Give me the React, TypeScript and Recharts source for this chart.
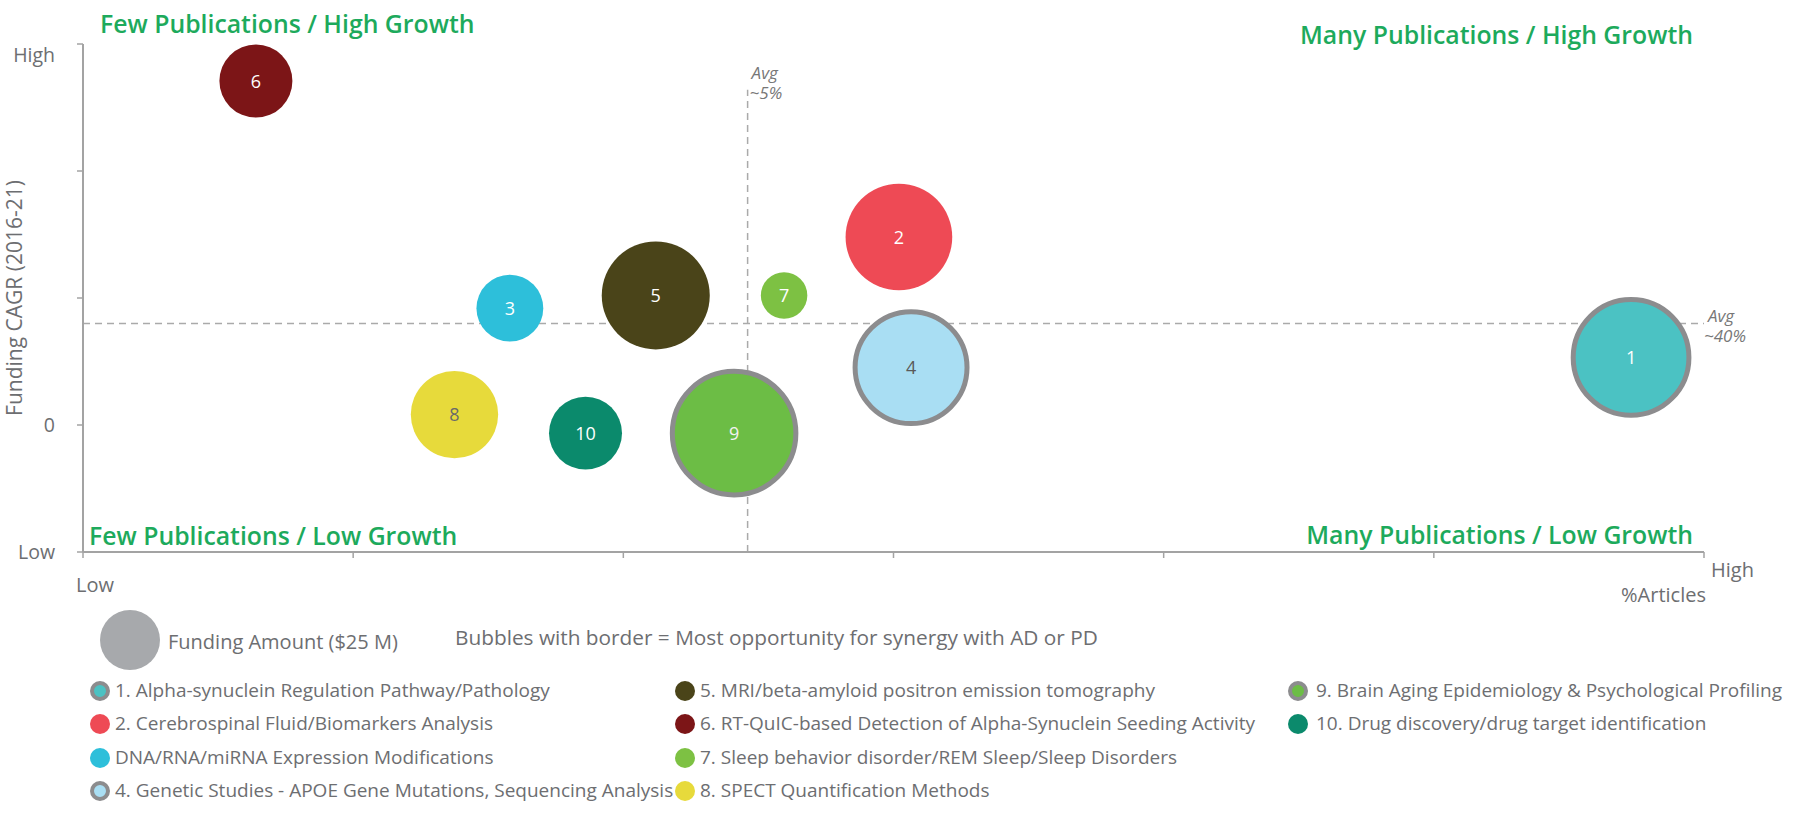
import React from 'react';
import { ScatterChart, Scatter, XAxis, YAxis, ZAxis, ReferenceLine } from 'recharts';

const ids = [1, 2, 3, 4, 5, 6, 7, 8, 9, 10];
const names = [
  '1. Alpha-synuclein Regulation Pathway/Pathology',
  '2. Cerebrospinal Fluid/Biomarkers Analysis',
  'DNA/RNA/miRNA Expression Modifications',
  '4. Genetic Studies - APOE Gene Mutations, Sequencing Analysis',
  '5. MRI/beta-amyloid positron emission tomography',
  '6. RT-QuIC-based Detection of Alpha-Synuclein Seeding Activity',
  '7. Sleep behavior disorder/REM Sleep/Sleep Disorders',
  '8. SPECT Quantification Methods',
  '9. Brain Aging Epidemiology & Psychological Profiling',
  '10. Drug discovery/drug target identification',
];
const articles = [11.46, 6.04, 3.16, 6.13, 4.24, 1.28, 5.19, 2.75, 4.82, 3.72];
const cagr = [26.6, 74.0, 46.0, 22.6, 51.0, 135.4, 51.0, 4.1, -3.2, -3.2];
const funding = [93, 79, 31, 87, 81, 37, 15, 53, 106, 37];
const colors = ['#4BC2C3', '#EE4A55', '#2DBFDA', '#A9DEF3', '#4A4419', '#7C1517', '#7DC143', '#E7DA3B', '#6CBD45', '#0B8A6C'];
const bordered = [true, false, false, true, false, false, false, false, true, false];
const labelColors = ['#FFFFFF', '#FFFFFF', '#FFFFFF', '#5A5A5A', '#FFFFFF', '#FFFFFF', '#FFFFFF', '#6A6A6A', '#F2F2F2', '#FFFFFF'];
const legendCols = [[0, 1, 2, 3], [4, 5, 6, 7], [8, 9]];

const xTicks = [0, 2, 4, 6, 8, 10, 12];
const yTicks = [-50, 0, 50, 100, 150];
const yTickLabels: Record<string, string> = { '-50': 'Low', '0': '0', '150': 'High' };
const avgArticles = 4.92;
const avgCagr = 40;
const avgLineTop = 132;

const quadrantLabels = [
  'Few Publications / High Growth',
  'Many Publications / High Growth',
  'Few Publications / Low Growth',
  'Many Publications / Low Growth',
];

const data = ids.map((id, i) => ({
  id,
  name: names[i],
  x: articles[i],
  y: cagr[i],
  z: funding[i],
  color: colors[i],
  bordered: bordered[i],
  labelColor: labelColors[i],
}));

const FONT = '"Open Sans", "DejaVu Sans", sans-serif';
const GRAY_TEXT = '#6D6E71';
const GREEN = '#1DAA5C';
const AXIS = '#A3A3A3';

const Bubble = (props: any) => {
  const { cx, cy, payload } = props;
  const r = props.width ? props.width / 2 : Math.sqrt((props.size || 64) / Math.PI);
  return (
    <g>
      <circle
        cx={cx}
        cy={cy}
        r={r}
        fill={payload.color}
        stroke={payload.bordered ? '#8C8C8E' : 'none'}
        strokeWidth={payload.bordered ? 5 : 0}
      />
      <text x={cx} y={cy} dy={6.5} textAnchor="middle" fill={payload.labelColor} fontSize={18} fontFamily={FONT}>
        {payload.id}
      </text>
    </g>
  );
};

const XTick = (props: any) => {
  const { x, y, payload } = props;
  if (payload.value === xTicks[0]) {
    return (
      <text x={x - 7} y={y + 32} fill={GRAY_TEXT} fontSize={20} fontFamily={FONT}>
        Low
      </text>
    );
  }
  if (payload.value === xTicks[xTicks.length - 1]) {
    return (
      <g>
        <text x={x + 7} y={y + 17} fill={GRAY_TEXT} fontSize={20} fontFamily={FONT}>
          High
        </text>
        <text x={x + 2} y={y + 42} fill={GRAY_TEXT} fontSize={20} fontFamily={FONT} textAnchor="end">
          %Articles
        </text>
      </g>
    );
  }
  return <g />;
};

const YTick = (props: any) => {
  const { x, y, payload } = props;
  const label = yTickLabels[String(payload.value)];
  if (!label) return <g />;
  const extra = payload.value === yTicks[yTicks.length - 1] ? 11 : 0;
  return (
    <text x={x - 20} y={y + 7 + extra} fill={GRAY_TEXT} fontSize={19.5} fontFamily={FONT} textAnchor="end">
      {label}
    </text>
  );
};

const VAvgLabel = (props: any) => {
  const vb = props.viewBox || {};
  const x = vb.x ?? 0;
  const y = vb.y ?? 0;
  return (
    <g>
      <text x={x + 4} y={y - 11} fill="#777" fontSize={17} fontStyle="italic" fontFamily={FONT}>Avg</text>
      <text x={x + 2} y={y + 9} fill="#777" fontSize={17} fontStyle="italic" fontFamily={FONT}>~5%</text>
    </g>
  );
};

const HAvgLabel = (props: any) => {
  const vb = props.viewBox || {};
  const x = (vb.x ?? 0) + (vb.width ?? 0);
  const y = vb.y ?? 0;
  return (
    <g>
      <text x={x + 4} y={y - 1} fill="#777" fontSize={17} fontStyle="italic" fontFamily={FONT}>Avg</text>
      <text x={x} y={y + 19} fill="#777" fontSize={17} fontStyle="italic" fontFamily={FONT}>~40%</text>
    </g>
  );
};

const quadStyle: React.CSSProperties = {
  position: 'absolute',
  color: GREEN,
  fontSize: 24.8,
  fontWeight: 600,
  lineHeight: '28px',
  whiteSpace: 'nowrap',
};

const LegendMarker = ({ i }: { i: number }) => (
  <div
    style={{
      width: 20,
      height: 20,
      borderRadius: '50%',
      background: colors[i],
      boxSizing: 'border-box',
      border: bordered[i] ? '4px solid #8C8C8E' : 'none',
    }}
  />
);

const legendColX = [[100, 115], [685, 700], [1298, 1316]];
const legendRowY = [691, 724, 758, 791];

export default function App() {
  return (
    <div
      style={{
        position: 'absolute',
        left: 0,
        top: 0,
        width: 1800,
        height: 816,
        background: '#fff',
        fontFamily: FONT,
        overflow: 'hidden',
      }}
    >
      <ScatterChart width={1800} height={620} margin={{ top: 44, right: 96, bottom: 8, left: 13 }}>
        <XAxis
          type="number"
          dataKey="x"
          domain={[0, 12]}
          ticks={xTicks}
          height={60}
          axisLine={{ stroke: AXIS, strokeWidth: 2 }}
          tickLine={{ stroke: AXIS, strokeWidth: 1.5 }}
          tick={<XTick />}
          interval={0}
        />
        <YAxis
          type="number"
          dataKey="y"
          domain={[-50, 150]}
          ticks={yTicks}
          width={70}
          axisLine={{ stroke: AXIS, strokeWidth: 2 }}
          tickLine={{ stroke: AXIS, strokeWidth: 1.5 }}
          tick={<YTick />}
          interval={0}
          label={{
            value: 'Funding CAGR (2016-21)',
            angle: -90,
            position: 'insideLeft',
            offset: 2,
            style: { fill: GRAY_TEXT, fontSize: 21, fontFamily: FONT, textAnchor: 'middle' },
          }}
        />
        <ZAxis type="number" dataKey="z" domain={[0, 125]} range={[0, 14137]} />
        <ReferenceLine
          segment={[
            { x: avgArticles, y: -50 },
            { x: avgArticles, y: avgLineTop },
          ]}
          stroke="#AAAAAA"
          strokeWidth={1.5}
          strokeDasharray="7 5"
          label={<VAvgLabel />}
        />
        <ReferenceLine
          y={avgCagr}
          stroke="#AAAAAA"
          strokeWidth={1.5}
          strokeDasharray="7 5"
          label={<HAvgLabel />}
        />
        <Scatter data={data} shape={<Bubble />} isAnimationActive={false} />
      </ScatterChart>

      <div style={{ ...quadStyle, left: 100, top: 9 }}>{quadrantLabels[0]}</div>
      <div style={{ ...quadStyle, right: 1800 - 1693, top: 20 }}>{quadrantLabels[1]}</div>
      <div style={{ ...quadStyle, left: 89, top: 521 }}>{quadrantLabels[2]}</div>
      <div style={{ ...quadStyle, right: 1800 - 1693, top: 520 }}>{quadrantLabels[3]}</div>

      <div
        style={{
          position: 'absolute',
          left: 100,
          top: 610,
          width: 60,
          height: 60,
          borderRadius: '50%',
          background: '#A7A9AC',
        }}
      />
      <div style={{ position: 'absolute', left: 168, top: 628, fontSize: 20, color: GRAY_TEXT, lineHeight: '28px', whiteSpace: 'nowrap' }}>
        Funding Amount ($25 M)
      </div>
      <div style={{ position: 'absolute', left: 455, top: 623, fontSize: 20.8, color: GRAY_TEXT, lineHeight: '28px', whiteSpace: 'nowrap' }}>
        Bubbles with border = Most opportunity for synergy with AD or PD
      </div>

      {legendCols.map((col, c) =>
        col.map((i, r) => (
          <React.Fragment key={i}>
            <div style={{ position: 'absolute', left: legendColX[c][0] - 10, top: legendRowY[r] - 10 }}>
              <LegendMarker i={i} />
            </div>
            <div
              style={{
                position: 'absolute',
                left: legendColX[c][1],
                top: legendRowY[r] - 14,
                fontSize: 19,
                lineHeight: '27px',
                color: GRAY_TEXT,
                whiteSpace: 'nowrap',
              }}
            >
              {names[i]}
            </div>
          </React.Fragment>
        ))
      )}
    </div>
  );
}
